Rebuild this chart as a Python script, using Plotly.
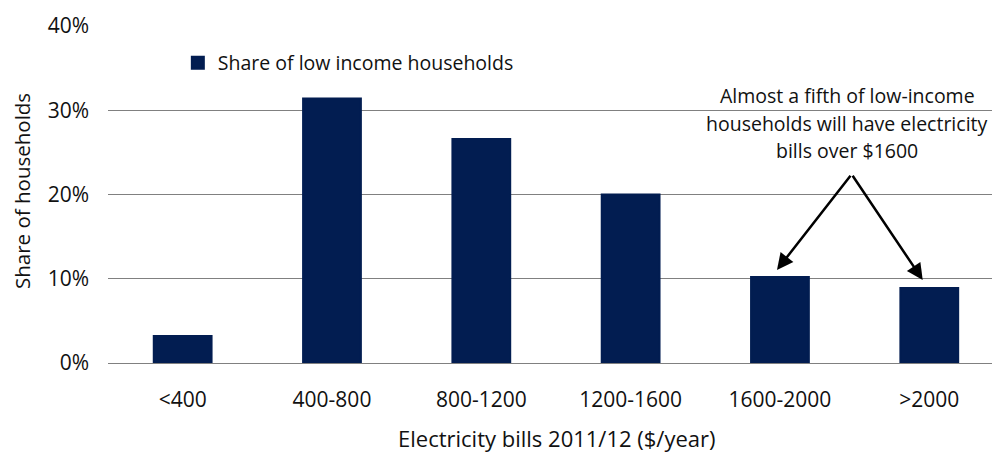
import plotly.graph_objects as go

categories = ["<400", "400-800", "800-1200", "1200-1600", "1600-2000", ">2000"]
shares = [3.2, 31.4, 26.6, 20.0, 10.2, 8.9]
y_ticks = [0, 10, 20, 30, 40]
y_tick_labels = ["0%", "10%", "20%", "30%", "40%"]
series_name = "Share of low income households"
note_lines = ["Almost a fifth of low-income",
              "households will have electricity",
              "bills over $1600"]

NAVY = "#021d51"
FONT = "Open Sans"
GRID = "#808080"
TXT = "#111111"

fig = go.Figure()
fig.add_trace(go.Bar(
    x=categories, y=shares, name=series_name,
    marker=dict(color=NAVY, line=dict(color=NAVY, width=2)),
    width=0.387, showlegend=True,
))

annotations = []
line_y = [31.8, 28.4, 25.2]
for txt, yy in zip(note_lines, line_y):
    annotations.append(dict(x=4.45, y=yy, xref="x", yref="y", text=txt,
                            showarrow=False, xanchor="center", yanchor="middle",
                            font=dict(family=FONT, size=19.5, color=TXT)))
tail_x, tail_y = 4.48, 22.4
for hx, hy in [(3.98, 11.05), (4.956, 9.86)]:
    annotations.append(dict(x=hx, y=hy, xref="x", yref="y", ax=tail_x, ay=tail_y,
                            axref="x", ayref="y", text="", showarrow=True,
                            arrowhead=2, arrowsize=1.3, arrowwidth=2.5,
                            arrowcolor="#000000"))
annotations.append(dict(x=(557 - 108) / 884, y=(363 - 438) / 337, xref="paper", yref="paper",
                        text="Electricity bills 2011/12 ($/year)", showarrow=False,
                        xanchor="center", yanchor="middle",
                        font=dict(family=FONT, size=22, color=TXT)))
annotations.append(dict(x=(22 - 108) / 884, y=(363 - 191) / 337, xref="paper", yref="paper",
                        text="Share of households", showarrow=False, textangle=-90,
                        xanchor="center", yanchor="middle",
                        font=dict(family=FONT, size=20.5, color=TXT)))

fig.update_layout(
    width=992, height=454,
    margin=dict(l=108, r=0, t=26, b=91, pad=0),
    paper_bgcolor="white", plot_bgcolor="white",
    font=dict(family=FONT, size=19, color=TXT),
    xaxis=dict(type="category", range=[-0.5, 5.42], showgrid=False, showline=False,
               ticks="", tickfont=dict(family=FONT, size=21, color=TXT),
               ticklabelstandoff=22),
    yaxis=dict(range=[0, 40], tickmode="array", tickvals=y_ticks, ticktext=y_tick_labels,
               showgrid=True, gridcolor=GRID, gridwidth=1, zeroline=True,
               zerolinecolor=GRID, zerolinewidth=1, showline=False, ticks="",
               tickfont=dict(family=FONT, size=21, color=TXT),
               ticklabelstandoff=18),
    legend=dict(x=0.079, y=0.89, xanchor="left", yanchor="middle",
                bgcolor="rgba(0,0,0,0)", font=dict(family=FONT, size=19.5, color=TXT),
                itemwidth=30),
    annotations=annotations,
)

fig.write_html("out.html")
